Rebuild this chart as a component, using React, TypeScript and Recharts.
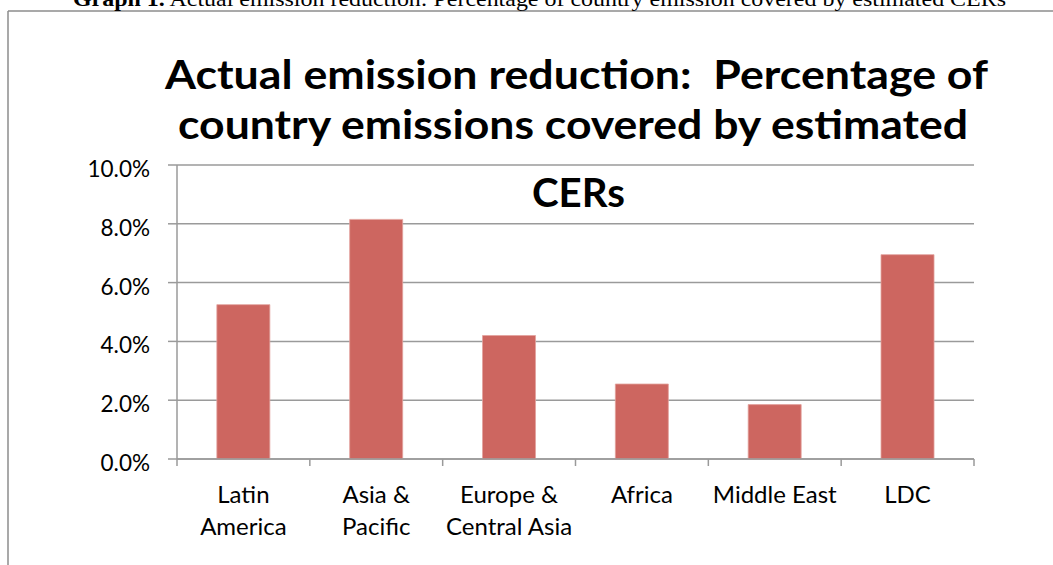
import React from 'react';
import { BarChart, Bar, XAxis, YAxis, CartesianGrid } from 'recharts';

const categories = ['Latin America', 'Asia & Pacific', 'Europe & Central Asia', 'Africa', 'Middle East', 'LDC'];
const categoryLabelLines = [['Latin', 'America'], ['Asia &', 'Pacific'], ['Europe &', 'Central Asia'], ['Africa'], ['Middle East'], ['LDC']];
const coveragePct = [5.25, 8.15, 4.2, 2.55, 1.85, 6.95];
const yTicks = [0, 2, 4, 6, 8, 10];

const titleLines = ['Actual emission reduction:  Percentage of', 'country emissions covered by estimated', 'CERs'];
const captionBold = 'Graph 1.';
const captionRest = ' Actual emission reduction: Percentage of country emission covered by estimated CERs';

const data = categories.map((name, i) => ({ name, value: coveragePct[i] }));

const W = 1053;
const H = 565;
const PLOT_LEFT = 177;
const PLOT_RIGHT = 974;
const PLOT_TOP = 165;
const PLOT_BOTTOM = 459;
const BAND = (PLOT_RIGHT - PLOT_LEFT) / categories.length;
const GRAY = '#9a9a9a';
const FONT = 'Lato, "Open Sans", sans-serif';

const XTick = (props: any) => {
  const { x, y, index } = props;
  const lines = categoryLabelLines[index] || [];
  const last = index === categories.length - 1;
  return (
    <g>
      <line x1={x - BAND / 2} x2={x - BAND / 2} y1={y} y2={y + 7} stroke={GRAY} strokeWidth={1.5} />
      {last && <line x1={x + BAND / 2} x2={x + BAND / 2} y1={y} y2={y + 7} stroke={GRAY} strokeWidth={1.5} />}
      <text textAnchor="middle" fontFamily={FONT} fontSize={24} fill="#000">
        {lines.map((l, i) => (
          <tspan key={i} x={x} y={y + 44 + i * 32}>{l}</tspan>
        ))}
      </text>
    </g>
  );
};

const YTick = (props: any) => {
  const { x, y, payload } = props;
  return (
    <text x={x} y={y + 12} textAnchor="end" fontFamily={FONT} fontSize={22.5} fill="#000">
      {Number(payload.value).toFixed(1) + '%'}
    </text>
  );
};

export default function App() {
  return (
    <div style={{ position: 'absolute', left: 0, top: 0, width: W, height: H, background: '#fff', overflow: 'hidden' }}>
      <div style={{ position: 'absolute', left: 0, top: 0 }}>
        <BarChart
          width={W}
          height={H}
          data={data}
          barCategoryGap="30%"
          margin={{ top: PLOT_TOP, right: W - PLOT_RIGHT, bottom: 0, left: PLOT_LEFT - 80 }}
        >
          <CartesianGrid vertical={false} stroke={GRAY} strokeWidth={1.5} />
          <XAxis
            dataKey="name"
            height={H - PLOT_BOTTOM}
            axisLine={{ stroke: GRAY, strokeWidth: 1.5 }}
            tickLine={false}
            tickSize={0}
            tickMargin={0}
            interval={0}
            tick={<XTick />}
          />
          <YAxis
            width={80}
            domain={[0, 10]}
            ticks={yTicks}
            axisLine={{ stroke: GRAY, strokeWidth: 1.5 }}
            tickLine={{ stroke: GRAY, strokeWidth: 1.5 }}
            tickSize={9}
            tickMargin={18}
            tick={<YTick />}
          />
          <Bar dataKey="value" fill="#CD6660" stroke="#E2A29D" strokeWidth={0.8} isAnimationActive={false} />
        </BarChart>
      </div>
      <svg width={W} height={H} style={{ position: 'absolute', left: 0, top: 0, pointerEvents: 'none' }}>
        <line x1={8} y1={11} x2={W} y2={11} stroke="#8c8c8c" strokeWidth={1.5} />
        <line x1={8} y1={11} x2={8} y2={H} stroke="#8c8c8c" strokeWidth={1.5} />
        <text
          x={539.5}
          y={6}
          textAnchor="middle"
          fontFamily='"Liberation Serif", "Times New Roman", serif'
          fontSize={22}
          fill="#000"
          textLength={933}
          lengthAdjust="spacingAndGlyphs"
        >
          <tspan fontWeight="bold">{captionBold}</tspan>
          {captionRest}
        </text>
        <g fontFamily={FONT} fontWeight="bold" fontSize={40} fill="#000" textAnchor="middle">
          <text x={576.5} y={89} textLength={823} lengthAdjust="spacingAndGlyphs" xmlSpace="preserve" style={{ whiteSpace: 'pre' }}>
            {titleLines[0]}
          </text>
          <text x={573} y={139} textLength={790} lengthAdjust="spacingAndGlyphs">{titleLines[1]}</text>
          <text x={578.5} y={207} textLength={93} lengthAdjust="spacingAndGlyphs">{titleLines[2]}</text>
        </g>
      </svg>
    </div>
  );
}
